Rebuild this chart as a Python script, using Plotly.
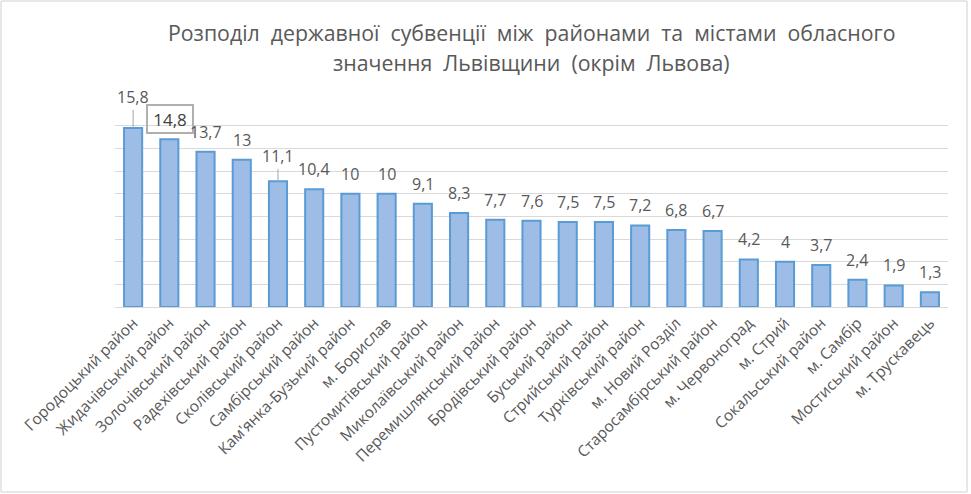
import plotly.graph_objects as go

# райони та міста, за спаданням субвенції
districts = [
    "Городоцький район", "Жидачівський район", "Золочівський район",
    "Радехівський район", "Сколівський район", "Самбірський район",
    "Кам'янка-Бузький район", "м. Борислав", "Пустомитівський район",
    "Миколаївський район", "Перемишлянський район", "Бродівський район",
    "Буський район", "Стрийський район", "Турківський район",
    "м. Новий Розділ", "Старосамбірський район", "м. Червоноград",
    "м. Стрий", "Сокальський район", "м. Самбір", "Мостиський район",
    "м. Трускавець",
]
subvention = [15.8, 14.8, 13.7, 13, 11.1, 10.4, 10, 10, 9.1, 8.3, 7.7, 7.6,
              7.5, 7.5, 7.2, 6.8, 6.7, 4.2, 4, 3.7, 2.4, 1.9, 1.3]
title_lines = [
    "Розподіл  державної  субвенції  між  районами  та  містами  обласного",
    "значення  Львівщини  (окрім  Львова)",
]

W, H = 971, 494
ml, mr, mt, mb = 115, 23, 103, 187
pw = W - ml - mr
ph = H - mt - mb
grey = "#595959"
font = "'Open Sans', sans-serif"

fig = go.Figure(go.Bar(
    x=districts, y=subvention,
    marker=dict(color="#9dbde6", line=dict(color="#5b9bd5", width=2)),
    width=0.5,
    hoverinfo="x+y",
))

# підписи значень
for i, (name, v) in enumerate(zip(districts, subvention)):
    txt = f"{v:g}".replace(".", ",")
    ann = dict(x=name, y=v, text=txt, showarrow=False, yanchor="bottom",
               yshift=7, font=dict(size=16, color=grey))
    if i == 0:
        ann.update(showarrow=True, arrowhead=0, arrowwidth=1, arrowcolor="#a6a6a6",
                   ax=0, ay=-18, yshift=0)
    elif i == 1:
        ann.update(yshift=5, xshift=1, bordercolor="#b0b0b0", borderwidth=2,
                   width=42, height=24, font=dict(size=17, color="#404040"))
    elif i == 4:
        ann.update(showarrow=True, arrowhead=0, arrowwidth=1, arrowcolor="#a6a6a6",
                   ax=0, ay=-12, yshift=0)
    fig.add_annotation(**ann)

# заголовок
for k, line in enumerate(title_lines):
    fig.add_annotation(text=line, xref="paper", yref="paper", x=0.5,
                       y=1 + (mt - (33 + 29 * k)) / ph, yanchor="middle",
                       showarrow=False, font=dict(size=21.3, color=grey))

fig.add_shape(type="rect", xref="paper", yref="paper",
              x0=(1 - ml) / pw, x1=(W - 4 - ml) / pw,
              y0=-(H - 2 - mt - ph) / ph, y1=1 + (mt - 1) / ph,
              line=dict(color="#d0d0d0", width=1))

fig.update_layout(
    width=W, height=H,
    margin=dict(l=ml, r=mr, t=mt, b=mb),
    paper_bgcolor="white", plot_bgcolor="white",
    font=dict(family=font, color=grey),
    showlegend=False,
    bargap=0.5,
)
fig.update_xaxes(tickangle=-45, tickfont=dict(size=15.5, color=grey), automargin=False,
                 showline=True, linecolor="#d9d9d9", linewidth=1, ticks="")
fig.update_yaxes(range=[0, 18], dtick=2, showticklabels=False, automargin=False,
                 gridcolor="#d9d9d9", gridwidth=1, zeroline=False)

fig.write_html("out.html", config={"displayModeBar": False},
               post_script="document.body.style.margin='0';")
